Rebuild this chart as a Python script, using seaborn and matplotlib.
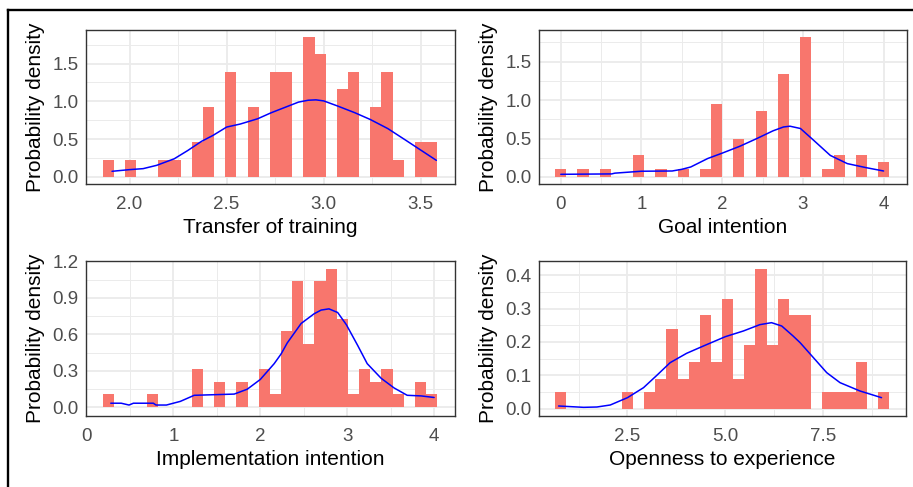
import numpy as np
import pandas as pd
import matplotlib
matplotlib.use("Agg")
import matplotlib.pyplot as plt
from matplotlib.lines import Line2D
import seaborn as sns

# ---------------------------------------------------------------- data
# Transfer of training: 30-bin histogram (density scale) and density curve
transfer_bin_range = (1.862, 3.584)
transfer_density = [0.23, 0, 0.23, 0, 0, 0.23, 0.23, 0, 0.46, 0.93,
                    0, 1.39, 0, 0.93, 0, 1.39, 1.39, 0, 1.85, 1.62,
                    0, 1.16, 1.39, 0, 0.93, 1.39, 0.23, 0, 0.46, 0.46]
transfer_curve_x = [1.91, 2.0, 2.07, 2.14, 2.23, 2.30, 2.37, 2.43, 2.5, 2.57,
                    2.66, 2.73, 2.80, 2.87, 2.92, 2.96, 3.0, 3.07, 3.16, 3.24,
                    3.33, 3.42, 3.5, 3.58]
transfer_curve_y = [0.075, 0.097, 0.11, 0.154, 0.24, 0.35, 0.47, 0.55, 0.66, 0.70,
                    0.77, 0.85, 0.92, 0.99, 1.015, 1.02, 1.006, 0.94, 0.85, 0.76,
                    0.64, 0.49, 0.355, 0.22]

# Goal intention
goal_bin_range = (-0.069, 4.069)
goal_density = [0.10, 0, 0.10, 0, 0.10, 0, 0, 0.29, 0, 0.10,
                0, 0.10, 0, 0.10, 0.95, 0, 0.49, 0, 0.86, 0,
                1.34, 0, 1.82, 0, 0.10, 0.29, 0, 0.29, 0, 0.20]
goal_curve_x = [0.0, 0.63, 0.67, 1.0, 1.38, 1.5, 1.61, 1.82, 2.0, 2.22,
                2.43, 2.63, 2.76, 2.84, 2.97, 3.13, 3.34, 3.55, 3.79, 4.0]
goal_curve_y = [0.035, 0.040, 0.05, 0.075, 0.078, 0.10, 0.13, 0.24, 0.31, 0.40,
                0.50, 0.60, 0.65, 0.66, 0.63, 0.48, 0.28, 0.174, 0.12, 0.078]

# Implementation intention
impl_bin_range = (0.185, 4.035)
impl_density = [0.11, 0, 0, 0, 0.11, 0, 0, 0, 0.32, 0,
                0.21, 0, 0.21, 0, 0.32, 0.11, 0.63, 1.04, 0.52, 1.04,
                1.14, 0.73, 0.11, 0.32, 0.21, 0.32, 0.11, 0, 0.21, 0.11]
impl_curve_x = [0.28, 0.40, 0.49, 0.54, 0.77, 0.80, 0.92, 1.08, 1.24, 1.47,
                1.70, 1.85, 2.0, 2.16, 2.24, 2.31, 2.47, 2.62, 2.70, 2.79,
                2.89, 2.99, 3.12, 3.23, 3.39, 3.54, 3.69, 3.85, 4.0]
impl_curve_y = [0.035, 0.035, 0.02, 0.035, 0.035, 0.02, 0.02, 0.05, 0.10, 0.105,
                0.11, 0.15, 0.23, 0.36, 0.44, 0.53, 0.69, 0.77, 0.80, 0.81,
                0.78, 0.68, 0.51, 0.36, 0.24, 0.16, 0.10, 0.095, 0.082]

# Openness to experience
open_bin_range = (0.655, 9.18)
open_density = [0.05, 0, 0, 0, 0, 0, 0.05, 0, 0.05, 0.09,
                0.24, 0.09, 0.14, 0.28, 0.14, 0.33, 0.09, 0.19, 0.42, 0.19,
                0.33, 0.28, 0.28, 0, 0.05, 0.05, 0.05, 0.14, 0, 0.05]
open_curve_x = [0.74, 1.38, 1.72, 2.06, 2.5, 2.91, 3.25, 3.59, 4.01, 4.44,
                5.0, 5.46, 5.88, 6.18, 6.44, 6.73, 6.91, 7.25, 7.59, 7.93,
                8.44, 8.99]
open_curve_y = [0.008, 0.004, 0.005, 0.011, 0.033, 0.063, 0.10, 0.138, 0.166, 0.188,
                0.216, 0.233, 0.252, 0.258, 0.248, 0.218, 0.198, 0.153, 0.108, 0.078,
                0.053, 0.033]

# ---------------------------------------------------------------- style
sns.set_style("white")
plt.rcParams["font.family"] = ["Liberation Sans", "DejaVu Sans"]

BAR_COLOR = "#F8766D"
LINE_COLOR = "#0000FF"
GRID_COLOR = "#EBEBEB"
FRAME_COLOR = "#333333"
TICK_TEXT = "#4D4D4D"

W, H = 913, 487
fig = plt.figure(figsize=(W / 100, H / 100), dpi=100)


def add_panel(left, top, right, bottom):
    return fig.add_axes([left / W, 1 - bottom / H, (right - left) / W, (bottom - top) / H])


def draw_panel(ax, bin_range, density, curve_x, curve_y, xlabel,
               xticks, xticklabels, xminor, yticks, yticklabels, yminor, xlim, ylim):
    edges = np.linspace(bin_range[0], bin_range[1], len(density) + 1)
    bins_df = pd.DataFrame({"value": (edges[:-1] + edges[1:]) / 2,
                            "density": density})
    sns.histplot(data=bins_df, x="value", weights="density", bins=list(edges),
                 stat="count", color=BAR_COLOR, alpha=1, linewidth=0, ax=ax)
    curve_df = pd.DataFrame({"value": curve_x, "density": curve_y})
    sns.lineplot(data=curve_df, x="value", y="density", color=LINE_COLOR,
                 linewidth=1.1, estimator=None, ax=ax)
    ax.set_xlim(*xlim)
    ax.set_ylim(*ylim)
    ax.set_xticks(xticks)
    ax.set_xticklabels(xticklabels)
    ax.set_xticks(xminor, minor=True)
    ax.set_yticks(yticks)
    ax.set_yticklabels(yticklabels)
    ax.set_yticks(yminor, minor=True)
    ax.grid(which="major", color=GRID_COLOR, linewidth=1.3)
    ax.grid(which="minor", color=GRID_COLOR, linewidth=0.7)
    ax.set_axisbelow(True)
    ax.tick_params(which="major", direction="out", length=3, width=0.8,
                   color=FRAME_COLOR, labelsize=13.5, labelcolor=TICK_TEXT)
    ax.tick_params(axis="x", which="major", pad=5.5)
    ax.tick_params(axis="y", which="major", pad=2.5)
    ax.tick_params(which="minor", length=0)
    for s in ax.spines.values():
        s.set_visible(True)
        s.set_color(FRAME_COLOR)
        s.set_linewidth(1.0)
    ax.set_xlabel(xlabel, fontsize=15, color="black", labelpad=3.5)
    ax.set_ylabel("Probability density", fontsize=15, color="black", labelpad=5)


ax1 = add_panel(86, 30, 455, 184)
draw_panel(ax1, transfer_bin_range, transfer_density, transfer_curve_x, transfer_curve_y,
           "Transfer of training",
           [2.0, 2.5, 3.0, 3.5], ["2.0", "2.5", "3.0", "3.5"], [2.25, 2.75, 3.25],
           [0.0, 0.5, 1.0, 1.5], ["0.0", "0.5", "1.0", "1.5"], [0.25, 0.75, 1.25, 1.75],
           (1.776, 3.676), (-0.093, 1.944))

ax2 = add_panel(539, 30, 907, 184)
draw_panel(ax2, goal_bin_range, goal_density, goal_curve_x, goal_curve_y,
           "Goal intention",
           [0, 1, 2, 3, 4], ["0", "1", "2", "3", "4"], [0.5, 1.5, 2.5, 3.5],
           [0.0, 0.5, 1.0, 1.5], ["0.0", "0.5", "1.0", "1.5"], [0.25, 0.75, 1.25, 1.75],
           (-0.27, 4.29), (-0.091, 1.91))

ax3 = add_panel(86, 261, 455, 416)
draw_panel(ax3, impl_bin_range, impl_density, impl_curve_x, impl_curve_y,
           "Implementation intention",
           [0, 1, 2, 3, 4], ["0", "1", "2", "3", "4"], [0.5, 1.5, 2.5, 3.5],
           [0.0, 0.3, 0.6, 0.9, 1.2], ["0.0", "0.3", "0.6", "0.9", "1.2"],
           [0.15, 0.45, 0.75, 1.05],
           (-0.005, 4.24), (-0.07, 1.203))

ax4 = add_panel(539, 261, 906, 416)
draw_panel(ax4, open_bin_range, open_density, open_curve_x, open_curve_y,
           "Openness to experience",
           [2.5, 5.0, 7.5], ["2.5", "5.0", "7.5"], [1.25, 3.75, 6.25, 8.75],
           [0.0, 0.1, 0.2, 0.3, 0.4], ["0.0", "0.1", "0.2", "0.3", "0.4"],
           [0.05, 0.15, 0.25, 0.35],
           (0.24, 9.615), (-0.022, 0.443))

# outer frame along the top and left edges
fx = 7.8 / W
fy = 1 - 10.3 / H
fig.add_artist(Line2D([fx, fx], [0, fy], transform=fig.transFigure,
                      color="black", linewidth=1.7, solid_capstyle="projecting"))
fig.add_artist(Line2D([fx, 1], [fy, fy], transform=fig.transFigure,
                      color="black", linewidth=1.7, solid_capstyle="projecting"))

fig.savefig("out.png", dpi=100)
